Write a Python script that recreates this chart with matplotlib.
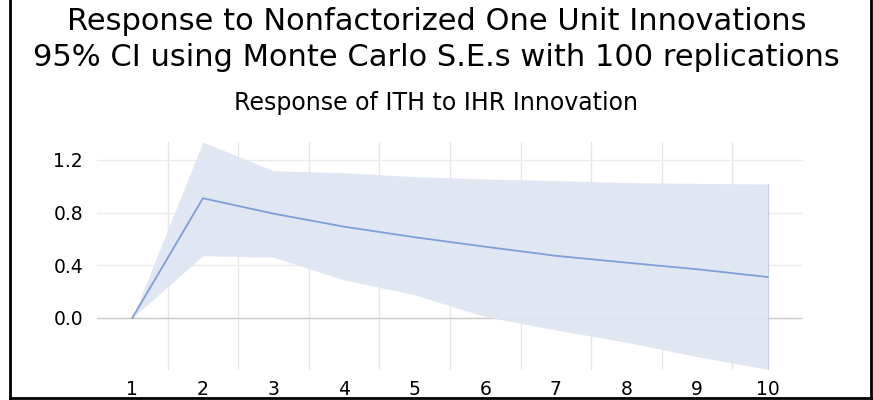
import numpy as np
import matplotlib.pyplot as plt
from matplotlib.lines import Line2D

# --- Data ---
periods = [1, 2, 3, 4, 5, 6, 7, 8, 9, 10]
response = [0.0, 0.909, 0.792, 0.693, 0.613, 0.541, 0.472, 0.420, 0.370, 0.311]
upper_ci = [0.0, 1.336, 1.118, 1.103, 1.073, 1.055, 1.043, 1.028, 1.022, 1.017]
lower_ci = [0.0, 0.473, 0.461, 0.289, 0.175, 0.010, -0.091, -0.185, -0.294, -0.390]
y_ticks = [0.0, 0.4, 0.8, 1.2]

# --- Figure ---
fig = plt.figure(figsize=(8.73, 4.0), dpi=100)
ax = fig.add_axes([97 / 873, 1 - 370 / 400, (803 - 97) / 873, (370 - 142) / 400])

ax.fill_between(periods, lower_ci, upper_ci, color='#dfe5f2', alpha=0.95, lw=0, zorder=2)
ax.plot([periods[-1], periods[-1]], [lower_ci[-1], upper_ci[-1]], color='#c6d0e4', lw=0.8, zorder=2)
ax.plot(periods, response, color='#7f9fd7', lw=1.3, zorder=3)

ax.set_xlim(0.5, 10.5)
ax.set_ylim(-0.395, 1.336)
ax.set_xticks(periods)
ax.set_xticklabels([str(p) for p in periods])
ax.set_yticks(y_ticks)
ax.set_yticklabels([f'{v:.1f}' for v in y_ticks])

# category-style vertical gridlines between periods
for xb in np.arange(1.5, 10.5, 1.0):
    ax.axvline(xb, color='#e6e6e6', lw=1, zorder=1)
for yv in y_ticks[1:]:
    ax.axhline(yv, color='#ebebeb', lw=1, zorder=1)
ax.axhline(0.0, color='#c8c8c8', lw=1, zorder=1)

for s in ax.spines.values():
    s.set_visible(False)
ax.tick_params(length=0, labelsize=13.5, colors='black')
ax.tick_params(axis='x', pad=7)
ax.tick_params(axis='y', pad=10)

# --- Titles ---
fig.text(0.5, 1 - 22 / 400, 'Response to Nonfactorized One Unit Innovations',
         ha='center', va='center', fontsize=22, family='DejaVu Sans')
fig.text(0.5, 1 - 58 / 400, '95% CI using Monte Carlo S.E.s with 100 replications',
         ha='center', va='center', fontsize=22, family='DejaVu Sans')
fig.text(0.5, 1 - 103 / 400, 'Response of ITH to IHR Innovation',
         ha='center', va='center', fontsize=17, family='DejaVu Sans')

# frame (left, right, bottom)
fig.add_artist(Line2D([10 / 873, 10 / 873], [2.5 / 400, 1], color='black', lw=2))
fig.add_artist(Line2D([870.5 / 873, 870.5 / 873], [2.5 / 400, 1], color='black', lw=2))
fig.add_artist(Line2D([10 / 873, 870.5 / 873], [2.5 / 400, 2.5 / 400], color='black', lw=2))

fig.savefig('out.png', dpi=100)
